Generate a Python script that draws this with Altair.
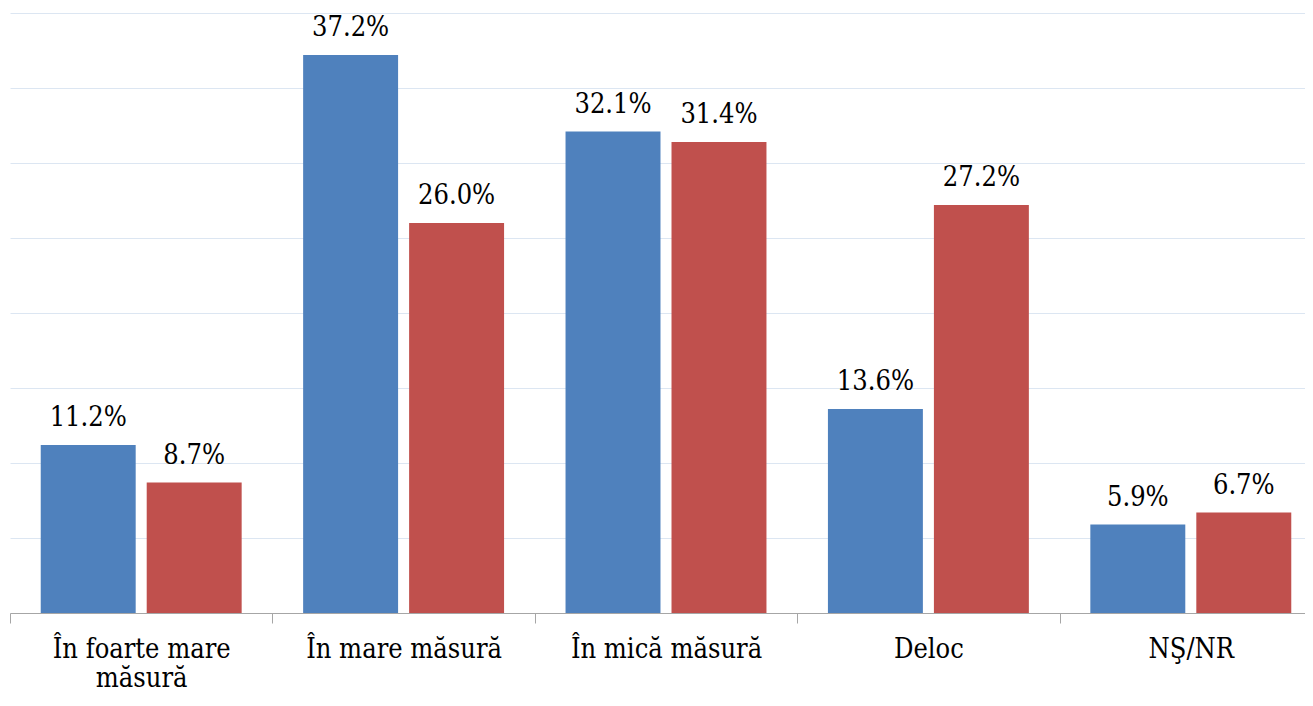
import altair as alt
import pandas as pd

categories = ["În foarte mare|măsură", "În mare măsură", "În mică măsură", "Deloc", "NŞ/NR"]
series = ["Seria 1", "Seria 2"]
values_1 = [11.2, 37.2, 32.1, 13.6, 5.9]
values_2 = [8.7, 26.0, 31.4, 27.2, 6.7]
colors = ["#4F81BD", "#C0504D"]
grid_values = [0, 5, 10, 15, 20, 25, 30, 35, 40]

rows = []
for c, a, b in zip(categories, values_1, values_2):
    rows.append({"cat": c, "serie": series[0], "val": a})
    rows.append({"cat": c, "serie": series[1], "val": b})
df = pd.DataFrame(rows)

FONT = "DejaVu Serif Condensed, DejaVu Serif"
FS = 27

x = alt.X(
    "cat:N",
    sort=categories,
    scale=alt.Scale(paddingInner=0, paddingOuter=0, range=[0, 1312]),
    axis=alt.Axis(
        title=None,
        labelAngle=0,
        labelExpr="split(datum.label, '|')",
        tickBand="extent",
        tickSize=10,
        domainColor="#A6A6A6",
        tickColor="#A6A6A6",
        labelFont=FONT,
        labelFontSize=FS,
        labelColor="#000000",
        labelBaseline="alphabetic",
        labelPadding=34,
        labelLineHeight=29,
        labelLimit=0,
        grid=False,
    ),
)
xo = alt.XOffset("serie:N", sort=series, scale=alt.Scale(paddingInner=0.104, paddingOuter=0.29))
y = alt.Y(
    "val:Q",
    scale=alt.Scale(domain=[0, 40], nice=False),
    axis=alt.Axis(
        title=None,
        labels=False,
        ticks=False,
        domain=False,
        values=grid_values,
        gridColor="#DCE6F2",
        gridWidth=1,
    ),
)

base = alt.Chart(df).transform_calculate(label="format(datum.val, '.1f') + '%'")

bars = base.mark_bar().encode(
    x=x,
    xOffset=xo,
    y=y,
    color=alt.Color("serie:N", sort=series, scale=alt.Scale(domain=series, range=colors), legend=None),
)

texts = base.mark_text(font=FONT, fontSize=FS, baseline="alphabetic", dy=-19, color="#000000").encode(
    x=x,
    xOffset=xo,
    y=y,
    text="label:N",
)

chart = (
    alt.layer(bars, texts)
    .properties(
        width=1295,
        height=600,
        padding={"left": 2, "top": 5, "right": 0, "bottom": 80},
        autosize=alt.AutoSizeParams(type="none"),
    )
    .configure_view(stroke=None)
)

chart.save("out.html", embed_options={"renderer": "svg", "actions": False})
